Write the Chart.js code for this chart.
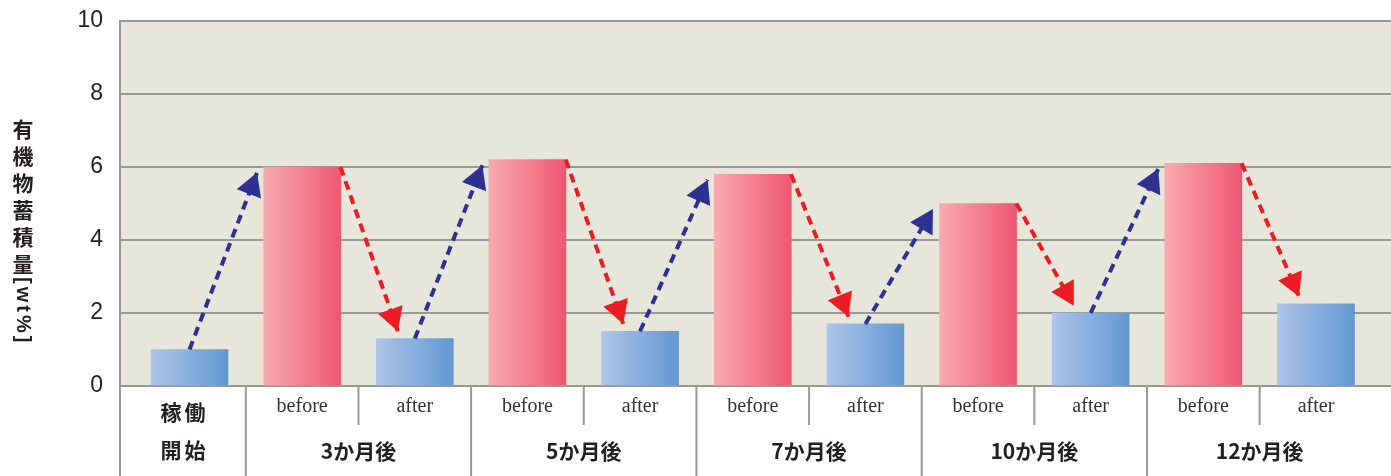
<!DOCTYPE html>
<html>
<head>
<meta charset="utf-8">
<script src="https://cdn.jsdelivr.net/npm/chart.js@4.4.1/dist/chart.umd.min.js"></script>
<style>
    html, body { margin: 0; padding: 0; background: #ffffff; }
    #wrap { width: 1391px; height: 476px; position: relative; }
</style>
</head>
<body>
<div id="wrap"><canvas id="chart"></canvas></div>
<script>
// Values (wt%)
const startLabel = ['稼働', '開始'];
const periodLabels = ['3か月後', '5か月後', '7か月後', '10か月後', '12か月後'];
const phaseLabels = ['before', 'after'];
const beforeValues = [6.0, 6.2, 5.8, 5.0, 6.1];
const afterValues = [1.0, 1.3, 1.5, 1.7, 2.0, 2.25]; // first one = 稼働開始
const yTicks = [0, 2, 4, 6, 8, 10];
const yTitle = '有機物蓄積量[wt%]';

const BAR_W = 77;
const CJK_FONT = '"Noto Sans CJK JP", "Noto Sans", sans-serif';

// bars sit at x = 0,1,2,... (after / before alternating)
const afterPoints = afterValues.map((v, k) => ({ x: 2 * k, y: v }));
const beforePoints = beforeValues.map((v, k) => ({ x: 2 * k + 1, y: v }));

// dashed arrows: blue = after -> next before, red = before -> next after
const arrowSets = [];
beforeValues.forEach((b, k) => {
    arrowSets.push({
        color: '#2e3192',
        data: [{ x: 2 * k, y: afterValues[k] }, { x: 2 * k + 0.6, y: b - 0.15 }]
    });
    arrowSets.push({
        color: '#ed1c24',
        data: [{ x: 2 * k + 1.34, y: b }, { x: 2 * k + 1.85, y: afterValues[k + 1] + 0.2 }]
    });
});

const barGradient = (stops) => (context) => {
    const chart = context.chart;
    const xScale = chart.scales.x;
    if (!xScale || context.type !== 'data') return stops[1];
    const cx = xScale.getPixelForValue(context.raw.x);
    if (!Number.isFinite(cx)) return stops[1];
    const g = chart.ctx.createLinearGradient(cx - BAR_W / 2, 0, cx + BAR_W / 2, 0);
    g.addColorStop(0, stops[0]);
    g.addColorStop(1, stops[1]);
    return g;
};

// plot background
const plotBackground = {
    id: 'plotBackground',
    beforeDraw(chart) {
        const { ctx, chartArea: a } = chart;
        ctx.save();
        ctx.fillStyle = '#e6e6da';
        ctx.fillRect(a.left, a.top, a.right - a.left, a.bottom - a.top);
        ctx.restore();
    }
};

// arrow heads on the end of each dashed line
const arrowHeads = {
    id: 'arrowHeads',
    afterDatasetsDraw(chart) {
        const ctx = chart.ctx;
        chart.data.datasets.forEach((ds, i) => {
            if (ds.type !== 'line') return;
            const pts = chart.getDatasetMeta(i).data;
            const p0 = pts[0], p1 = pts[1];
            const ang = Math.atan2(p1.y - p0.y, p1.x - p0.x);
            const len = 23, half = 13;
            const bx = p1.x - len * Math.cos(ang), by = p1.y - len * Math.sin(ang);
            ctx.save();
            ctx.fillStyle = ds.borderColor;
            ctx.beginPath();
            ctx.moveTo(p1.x, p1.y);
            ctx.lineTo(bx + half * Math.sin(ang), by - half * Math.cos(ang));
            ctx.lineTo(bx - half * Math.sin(ang), by + half * Math.cos(ang));
            ctx.closePath();
            ctx.fill();
            ctx.restore();
        });
    }
};

// table under the plot + vertical y title
const tableAndTitle = {
    id: 'tableAndTitle',
    afterDraw(chart) {
        const { ctx, chartArea: a, scales } = chart;
        const x = scales.x;
        const bottom = chart.height;
        const rowSplit = a.bottom + 39;
        ctx.save();
        ctx.strokeStyle = '#999999';
        ctx.lineWidth = 2;
        ctx.beginPath();
        ctx.moveTo(a.left, a.bottom);
        ctx.lineTo(a.left, bottom);
        periodLabels.forEach((p, k) => {
            const full = x.getPixelForValue(2 * k + 0.5);
            const half = x.getPixelForValue(2 * k + 1.5);
            ctx.moveTo(full, a.bottom);
            ctx.lineTo(full, bottom);
            ctx.moveTo(half, a.bottom);
            ctx.lineTo(half, rowSplit);
        });
        ctx.stroke();

        ctx.textAlign = 'center';
        ctx.textBaseline = 'alphabetic';
        ctx.fillStyle = '#231f20';

        // first cell
        const firstCx = (a.left + x.getPixelForValue(0.5)) / 2;
        ctx.font = 'bold 21px ' + CJK_FONT;
        ctx.letterSpacing = '3px';
        ctx.fillText(startLabel[0], firstCx + 1.5, 420);
        ctx.fillText(startLabel[1], firstCx + 1.5, 458);
        ctx.letterSpacing = '0px';

        periodLabels.forEach((p, k) => {
            ctx.font = '20px "Liberation Serif", "DejaVu Serif", serif';
            ctx.fillStyle = '#333333';
            ctx.fillText(phaseLabels[0], x.getPixelForValue(2 * k + 1), 412);
            ctx.fillText(phaseLabels[1], x.getPixelForValue(2 * k + 2), 412);
            ctx.font = 'bold 21px ' + CJK_FONT;
            ctx.fillStyle = '#231f20';
            ctx.fillText(p, x.getPixelForValue(2 * k + 1.5), 459);
        });

        // vertical axis title: kanji stacked upright, the unit turned sideways
        const cut = yTitle.indexOf('[');
        const kanji = yTitle.slice(0, cut);
        const unit = yTitle.slice(cut);
        ctx.textBaseline = 'middle';
        ctx.font = 'bold 21px ' + CJK_FONT;
        let ty = 129;
        for (const ch of kanji) {
            ctx.fillText(ch, 23, ty);
            ty += 27;
        }
        ctx.translate(23, ty - 14);
        ctx.rotate(Math.PI / 2);
        ctx.textAlign = 'left';
        ctx.font = 'bold 20px "Liberation Sans", Arial, sans-serif';
        ctx.letterSpacing = '3px';
        ctx.fillText(unit, 0, 0);
        ctx.restore();
    }
};

const datasets = [
    {
        type: 'bar', label: 'after', data: afterPoints, grouped: false, order: 2,
        barThickness: BAR_W, backgroundColor: barGradient(['#aec5e8', '#6298d1'])
    },
    {
        type: 'bar', label: 'before', data: beforePoints, grouped: false, order: 2,
        barThickness: BAR_W, backgroundColor: barGradient(['#f8abb1', '#ef5771'])
    }
].concat(arrowSets.map(a => ({
    type: 'line', data: a.data, order: 1,
    borderColor: a.color, borderWidth: 4, borderDash: [9, 6],
    pointRadius: 0, fill: false, clip: false
})));

new Chart(document.getElementById('chart').getContext('2d'), {
    data: { datasets: datasets },
    options: {
        responsive: true,
        maintainAspectRatio: false,
        animation: false,
        layout: { padding: { top: 21, right: 0, bottom: 0, left: 0 } },
        plugins: {
            legend: { display: false },
            tooltip: { enabled: false },
            title: { display: false }
        },
        scales: {
            x: {
                type: 'linear',
                offset: false,
                min: -0.617,
                max: 10.666,
                grid: { display: false },
                border: { display: false },
                ticks: { display: false },
                afterFit: (scale) => { scale.height = 90; }
            },
            y: {
                min: 0,
                max: 10,
                afterBuildTicks: (scale) => { scale.ticks = yTicks.map(v => ({ value: v })); },
                grid: { color: '#999999', lineWidth: 2, drawTicks: false },
                border: { display: true, color: '#999999', width: 2 },
                ticks: {
                    padding: 17,
                    color: '#231f20',
                    font: { family: '"Liberation Sans", Arial, sans-serif', size: 23 }
                },
                afterFit: (scale) => {
                    scale.width = 120;
                    scale.paddingTop = 0;
                    scale.paddingBottom = 0;
                }
            }
        }
    },
    plugins: [plotBackground, arrowHeads, tableAndTitle]
});
</script>
</body>
</html>
